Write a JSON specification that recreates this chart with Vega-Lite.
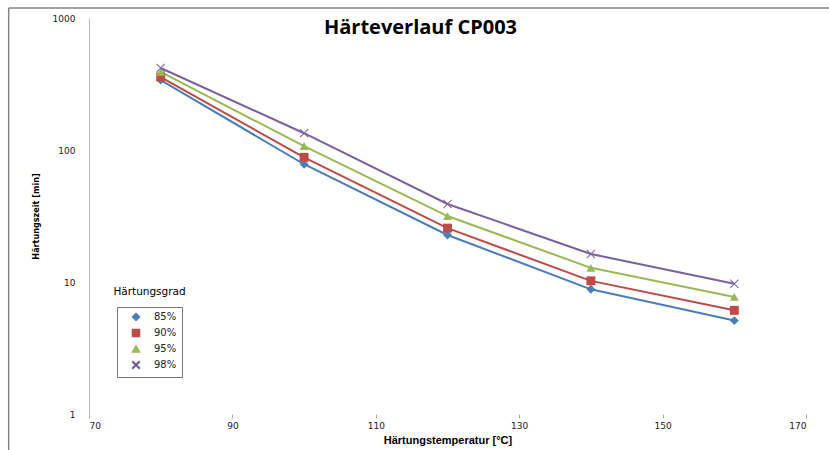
{
  "$schema": "https://vega.github.io/schema/vega-lite/v6.json",
  "width": 717,
  "height": 396,
  "autosize": "none",
  "padding": {"left": 89, "top": 18, "right": 23, "bottom": 36},
  "background": "white",
  "title": {
    "text": "Härteverlauf CP003",
    "font": "Open Sans",
    "fontSize": 20,
    "fontWeight": "bold",
    "color": "#000000",
    "frame": "group",
    "offset": -15,
    "baseline": "alphabetic",
    "dx": -27,
    "dy": 32
  },
  "data": {
    "values": [
      {"grad": "85%", "temp": 80, "zeit": 339},
      {"grad": "85%", "temp": 100, "zeit": 78},
      {"grad": "85%", "temp": 120, "zeit": 22.7},
      {"grad": "85%", "temp": 140, "zeit": 8.8},
      {"grad": "85%", "temp": 160, "zeit": 5.1},
      {"grad": "90%", "temp": 80, "zeit": 357},
      {"grad": "90%", "temp": 100, "zeit": 88},
      {"grad": "90%", "temp": 120, "zeit": 25.6},
      {"grad": "90%", "temp": 140, "zeit": 10.2},
      {"grad": "90%", "temp": 160, "zeit": 6.1},
      {"grad": "95%", "temp": 80, "zeit": 390},
      {"grad": "95%", "temp": 100, "zeit": 107},
      {"grad": "95%", "temp": 120, "zeit": 31.6},
      {"grad": "95%", "temp": 140, "zeit": 12.8},
      {"grad": "95%", "temp": 160, "zeit": 7.7},
      {"grad": "98%", "temp": 80, "zeit": 418},
      {"grad": "98%", "temp": 100, "zeit": 134},
      {"grad": "98%", "temp": 120, "zeit": 39},
      {"grad": "98%", "temp": 140, "zeit": 16.3},
      {"grad": "98%", "temp": 160, "zeit": 9.7}
    ]
  },
  "layer": [
    {
      "data": {"values": [{"x0": 58.8, "x1": 200, "ytop": 1190, "ybot": 0.4}]},
      "mark": {"type": "rule", "color": "#858585", "strokeWidth": 1.5},
      "encoding": {
        "x": {"field": "x0", "type": "quantitative"},
        "y": {"field": "ytop", "type": "quantitative"},
        "y2": {"field": "ybot"}
      }
    },
    {
      "data": {"values": [{"x0": 58.8, "x1": 200, "ytop": 1190, "ybot": 0.4}]},
      "mark": {"type": "rule", "color": "#858585", "strokeWidth": 1.5},
      "encoding": {
        "x": {"field": "x0", "type": "quantitative"},
        "x2": {"field": "x1"},
        "y": {"field": "ytop", "type": "quantitative"}
      }
    },
    {
      "mark": {"type": "line", "strokeWidth": 2},
      "encoding": {
        "x": {
          "field": "temp",
          "type": "quantitative",
          "title": "Härtungstemperatur [°C]",
          "scale": {"domain": [70, 170], "nice": false, "zero": false},
          "axis": {
            "values": [70, 90, 110, 130, 150, 170],
            "domain": false,
            "grid": false,
            "ticks": true,
            "tickSize": 4,
            "tickColor": "#aaaaaa",
            "labelPadding": 3,
            "labelFont": "DejaVu Sans",
            "labelFontSize": 9,
            "labelColor": "#222222",
            "titleFont": "Liberation Sans",
            "titleFontSize": 11,
            "titleFontWeight": "bold",
            "titleColor": "#000000",
            "titlePadding": 4
          }
        },
        "y": {
          "field": "zeit",
          "type": "quantitative",
          "title": "Härtungszeit [min]",
          "scale": {"type": "log", "domain": [1, 1000], "nice": false},
          "axis": {
            "values": [1, 10, 100, 1000],
            "format": "d",
            "domain": true,
            "domainColor": "#bbbbbb",
            "grid": false,
            "ticks": false,
            "labelPadding": 14,
            "labelFont": "DejaVu Sans",
            "labelFontSize": 9,
            "labelColor": "#222222",
            "titleFont": "DejaVu Sans Condensed, Liberation Sans",
            "titleFontSize": 9,
            "titleFontWeight": "bold",
            "titleColor": "#000000",
            "titlePadding": 12
          }
        },
        "color": {
          "field": "grad",
          "type": "nominal",
          "scale": {
            "domain": ["85%", "90%", "95%", "98%"],
            "range": ["#4a7ebb", "#be4b48", "#98b954", "#7d60a0"]
          }
        }
      }
    },
    {
      "mark": {"type": "point", "filled": true, "opacity": 1, "size": 80},
      "encoding": {
        "x": {"field": "temp", "type": "quantitative"},
        "y": {"field": "zeit", "type": "quantitative"},
        "color": {
          "field": "grad",
          "type": "nominal",
          "legend": {
            "orient": "none",
            "legendX": 28,
            "legendY": 289,
            "title": null,
            "strokeColor": "#777777",
            "fillColor": "white",
            "padding": 5,
            "rowPadding": 2,
            "labelFont": "DejaVu Sans",
            "labelFontSize": 10,
            "labelColor": "#222222",
            "labelOffset": 13,
            "symbolOffset": 9,
            "symbolSize": 50,
            "symbolOpacity": 1
          }
        },
        "shape": {
          "field": "grad",
          "type": "nominal",
          "scale": {
            "domain": ["85%", "90%", "95%", "98%"],
            "range": [
              "diamond",
              "square",
              "triangle-up",
              "M-1,-0.85L-0.85,-1L0,-0.15L0.85,-1L1,-0.85L0.15,0L1,0.85L0.85,1L0,0.15L-0.85,1L-1,0.85L-0.15,0Z"
            ]
          },
          "legend": {
            "orient": "none",
            "legendX": 28,
            "legendY": 289,
            "title": null,
            "strokeColor": "#777777",
            "fillColor": "white",
            "padding": 5,
            "rowPadding": 2,
            "labelFont": "DejaVu Sans",
            "labelFontSize": 10,
            "labelColor": "#222222",
            "labelOffset": 13,
            "symbolOffset": 9,
            "symbolSize": 50,
            "symbolOpacity": 1
          }
        }
      }
    },
    {
      "data": {"values": [{"label": "Härtungsgrad"}]},
      "mark": {
        "type": "text",
        "align": "left",
        "baseline": "middle",
        "font": "DejaVu Sans",
        "fontSize": 10.5,
        "fill": "#000000"
      },
      "encoding": {
        "x": {"datum": 73.4, "type": "quantitative"},
        "y": {"datum": 8.4, "type": "quantitative"},
        "text": {"field": "label"}
      }
    }
  ],
  "config": {"view": {"stroke": null}}
}
